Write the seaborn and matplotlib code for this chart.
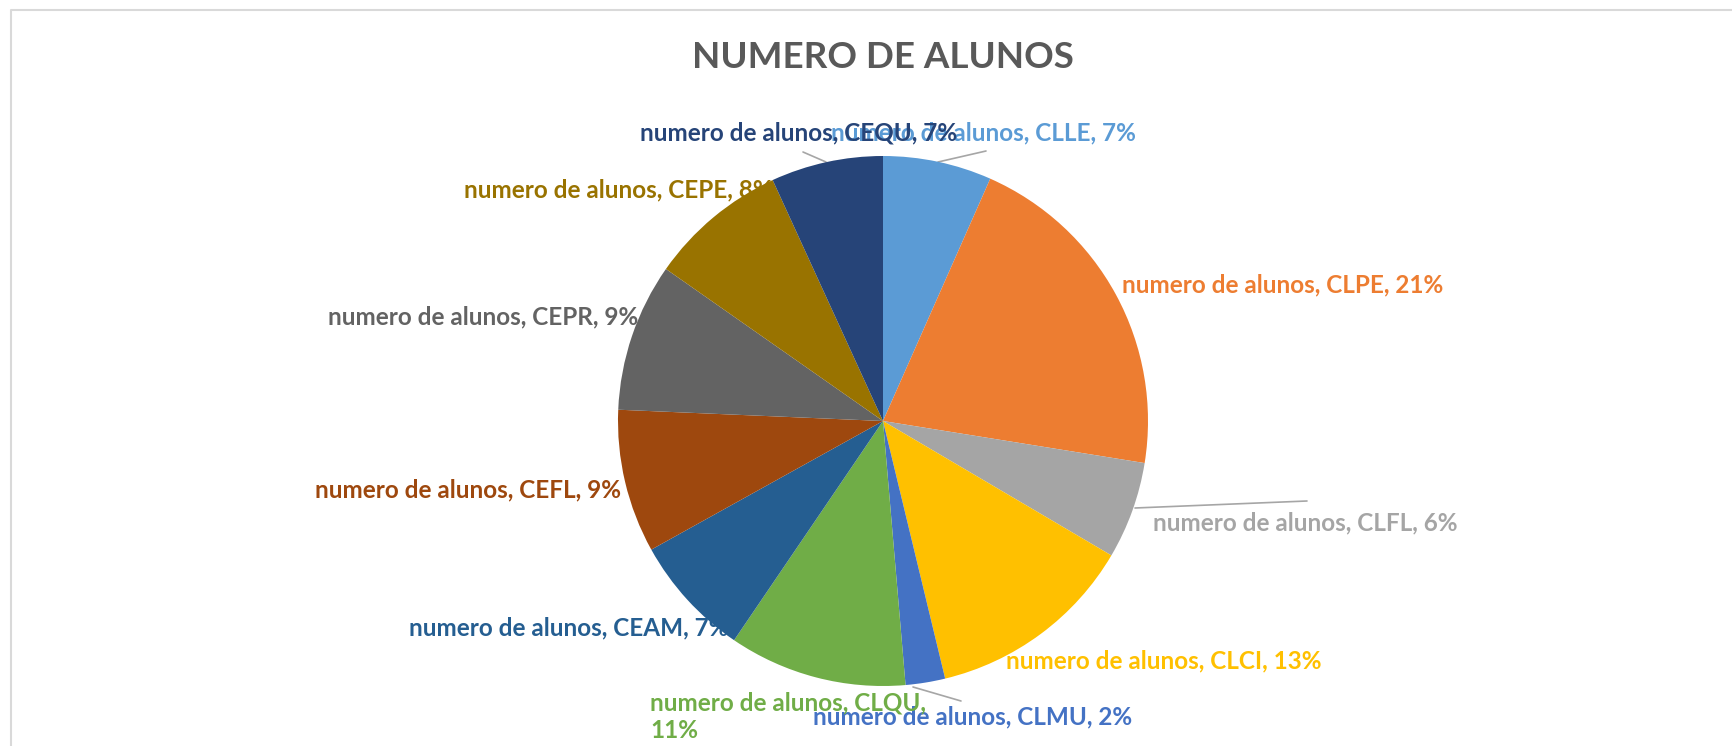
import matplotlib
matplotlib.use("Agg")
import matplotlib.pyplot as plt
import seaborn as sns

# dados do grafico (sentido horario a partir do topo)
cursos = ["CLLE", "CLPE", "CLFL", "CLCI", "CLMU", "CLQU",
          "CEAM", "CEFL", "CEPR", "CEPE", "CEQU"]
alunos = [66, 208, 59, 127, 24, 108, 74, 87, 90, 84, 68]
cores = ["#5B9BD5", "#ED7D31", "#A5A5A5", "#FFC000", "#4472C4", "#70AD47",
         "#255E91", "#9E480E", "#636363", "#997300", "#264478"]
titulo = "NUMERO DE ALUNOS"
serie = "numero de alunos"

# layout em pixels (x esquerda, y centro) para cada rotulo
pos_rotulos = [(831, 133), (1122, 285), (1153, 523), (1006, 661), (813, 717),
               (650, 717), (409, 628), (315, 490), (328, 317), (464, 190),
               (640, 133)]
quebra = {"CLQU"}
# linhas de chamada (pixels)
linhas = {"CLLE": [(938, 162), (986, 151)],
          "CEQU": [(826, 162), (803, 152)],
          "CLMU": [(913, 687), (961, 701)],
          "CLFL": [(1135, 508), (1307, 501)]}

W, H = 1733, 746
sns.set_theme(style="white")
plt.rcParams['font.family'] = ['Lato', 'DejaVu Sans']

fig = plt.figure(figsize=(W / 100, H / 100), dpi=100)
ax = fig.add_axes([0, 0, 1, 1])

def py(y):
    return H - y

total = sum(alunos)

# rotulos por baixo da pizza (como no Excel)
for i, (c, v, cor, (x, y)) in enumerate(zip(cursos, alunos, cores, pos_rotulos)):
    txt = f"{serie}, {c}, {round(100 * v / total)}%"
    if c in quebra:
        txt = f"{serie}, {c},\n{round(100 * v / total)}%"
    ax.text(x, py(y), txt, color=cor, fontsize=17.5, fontweight="bold",
            ha="left", va="center", zorder=0.5 + i * 0.01, linespacing=1.25)

for c, pts in linhas.items():
    ax.plot([p[0] for p in pts], [py(p[1]) for p in pts], color="#A6A6A6",
            lw=1.2, zorder=0.4)

ax.pie(alunos, colors=cores, startangle=90, counterclock=False,
       center=(883, py(421)), radius=265, wedgeprops=dict(linewidth=0))

ax.text(883, py(58), titulo, color="#595959", fontsize=26.5, fontweight="bold",
        ha="center", va="center")

# moldura do grafico
ax.plot([11, 11, W + 5], [py(H + 5), py(10), py(10)], color="#D9D9D9", lw=1.5)

ax.set_xlim(0, W)
ax.set_ylim(0, H)
ax.set_aspect("equal")
ax.axis("off")

fig.savefig("out.png", dpi=100, facecolor="white")
